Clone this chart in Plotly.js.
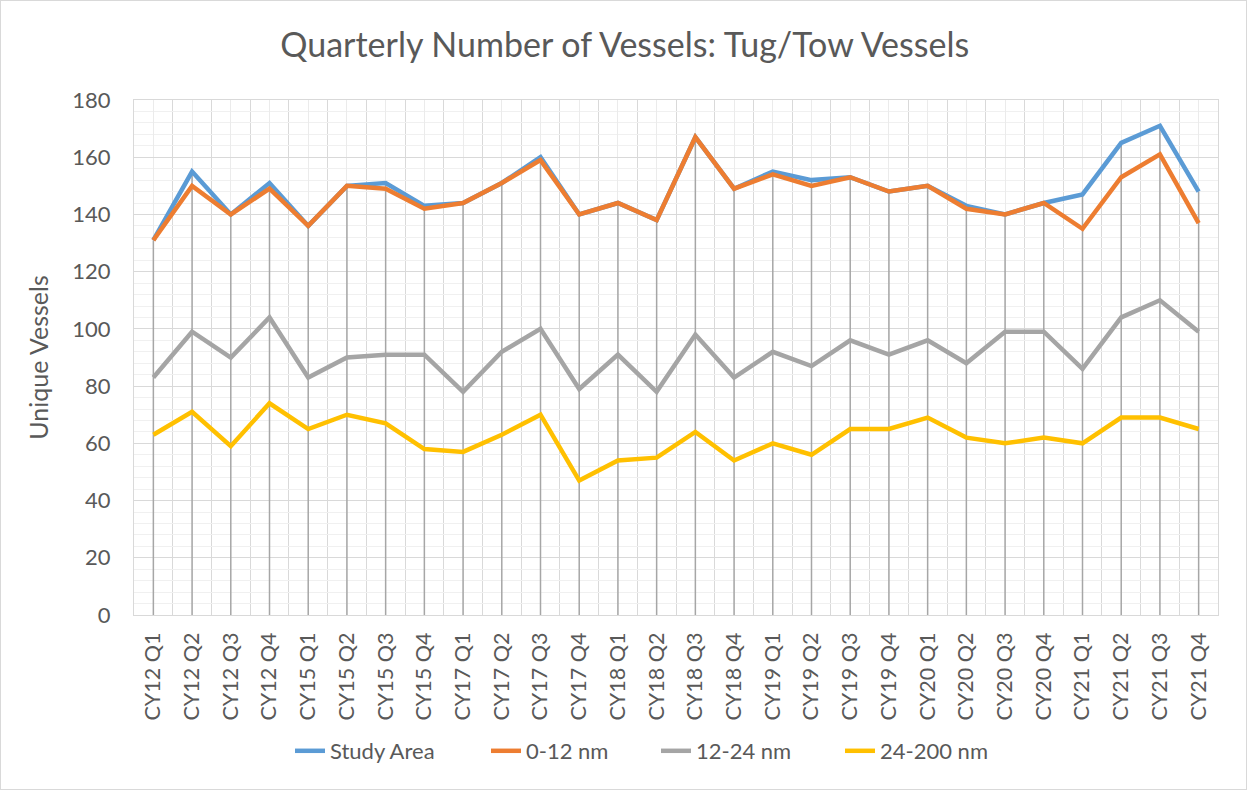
<!DOCTYPE html>
<html>
<head>
<meta charset="utf-8">
<script src="https://cdn.plot.ly/plotly-3.0.1.min.js"></script>
<style>
  html, body { margin: 0; padding: 0; background: #fff; }
  #wrap { position: relative; width: 1247px; height: 790px; }
  #chart { position: absolute; left: 0; top: 0; width: 1247px; height: 790px; }
  #frame { position: absolute; left: 0; top: 0; width: 1247px; height: 790px; box-sizing: border-box; border: 1px solid #D9D9D9; pointer-events: none; }
</style>
</head>
<body>
<div id="wrap"><div id="chart"></div><div id="frame"></div></div>
<script>
const categories = [
  "CY12 Q1","CY12 Q2","CY12 Q3","CY12 Q4",
  "CY15 Q1","CY15 Q2","CY15 Q3","CY15 Q4",
  "CY17 Q1","CY17 Q2","CY17 Q3","CY17 Q4",
  "CY18 Q1","CY18 Q2","CY18 Q3","CY18 Q4",
  "CY19 Q1","CY19 Q2","CY19 Q3","CY19 Q4",
  "CY20 Q1","CY20 Q2","CY20 Q3","CY20 Q4",
  "CY21 Q1","CY21 Q2","CY21 Q3","CY21 Q4"
];
const studyArea = [131,155,140,151, 136,150,151,143, 144,151,160,140, 144,138,167,149, 155,152,153,148, 150,143,140,144, 147,165,171,148];
const nm0to12   = [131,150,140,149, 136,150,149,142, 144,151,159,140, 144,138,167,149, 154,150,153,148, 150,142,140,144, 135,153,161,137];
const nm12to24  = [83,99,90,104, 83,90,91,91, 78,92,100,79, 91,78,98,83, 92,87,96,91, 96,88,99,99, 86,104,110,99];
const nm24to200 = [63,71,59,74, 65,70,67,58, 57,63,70,47, 54,55,64,54, 60,56,65,65, 69,62,60,62, 60,69,69,65];
const yTicks = [0,20,40,60,80,100,120,140,160,180];

const seriesNames = ["Study Area","0-12 nm","12-24 nm","24-200 nm"];
const seriesData = [studyArea, nm0to12, nm12to24, nm24to200];
const seriesColors = ["#5B9BD5","#ED7D31","#A5A5A5","#FFC000"];

const idx = categories.map((c, i) => i);

// Drop lines from the highest series value down to the axis
const dropX = [], dropY = [];
idx.forEach(i => {
  const top = Math.max(...seriesData.map(s => s[i]));
  dropX.push(i, i, null);
  dropY.push(top, 0, null);
});

const legendIds = ["legend", "legend2", "legend3", "legend4"];
const traces = [{
  x: dropX, y: dropY, mode: "lines", type: "scatter",
  line: { color: "#A6A6A6", width: 1.5 },
  showlegend: false, hoverinfo: "skip"
}];
seriesData.forEach((s, k) => {
  traces.push({
    x: idx, y: s, name: seriesNames[k], type: "scatter", mode: "lines",
    line: { color: seriesColors[k], width: 4.5 },
    legend: legendIds[k]
  });
});

const font = "Lato, 'Open Sans', sans-serif";
const plotL = 134, plotW = 1247 - 134 - 29, plotT = 100, plotH = 790 - 100 - 175;
const legendLeftPx = [290, 486, 656, 840];
const legendCenterPy = 751;

const layout = {
  width: 1247, height: 790,
  margin: { l: plotL, r: 29, t: plotT, b: 175 },
  paper_bgcolor: "#FFFFFF", plot_bgcolor: "#FFFFFF",
  font: { family: font, color: "#595959" },
  title: {
    text: "Quarterly Number of Vessels: Tug/Tow Vessels",
    font: { family: font, size: 34, color: "#595959" },
    xref: "container", x: 0.501, xanchor: "center",
    yref: "container", y: 1 - 45 / 790, yanchor: "middle"
  },
  xaxis: {
    range: [-0.5, categories.length - 0.5],
    tickmode: "array", tickvals: idx, ticktext: categories,
    tickangle: -90, ticks: "",
    tickfont: { family: font, size: 21.5, color: "#595959" },
    ticklabelstandoff: 8,
    showgrid: true, gridcolor: "#EBEBEB", gridwidth: 1,
    minor: { tick0: -0.5, dtick: 1, showgrid: true, gridcolor: "#D9D9D9", gridwidth: 1, ticks: "" },
    showline: true, linecolor: "#D9D9D9", linewidth: 1, mirror: true,
    zeroline: false, fixedrange: true
  },
  yaxis: {
    range: [0, 180],
    tickmode: "array", tickvals: yTicks,
    ticks: "",
    tickfont: { family: font, size: 22, color: "#595959" },
    ticklabelstandoff: 18,
    showgrid: true, gridcolor: "#D9D9D9", gridwidth: 1,
    minor: { tick0: 0, dtick: 4, showgrid: true, gridcolor: "#F0F0F0", gridwidth: 1, ticks: "" },
    showline: true, linecolor: "#D9D9D9", linewidth: 1, mirror: true,
    zeroline: false, fixedrange: true,
    title: { text: "Unique Vessels", font: { family: font, size: 25, color: "#595959" }, standoff: 16 }
  },
  showlegend: true
};
legendIds.forEach((id, k) => {
  layout[id] = {
    orientation: "h",
    x: (legendLeftPx[k] - plotL) / plotW, xanchor: "left",
    y: (plotT + plotH - legendCenterPy) / plotH, yanchor: "middle",
    font: { family: font, size: 22, color: "#595959" },
    bgcolor: "rgba(0,0,0,0)", borderwidth: 0
  };
});

Plotly.newPlot("chart", traces, layout, { displayModeBar: false, staticPlot: true });
</script>
</body>
</html>
